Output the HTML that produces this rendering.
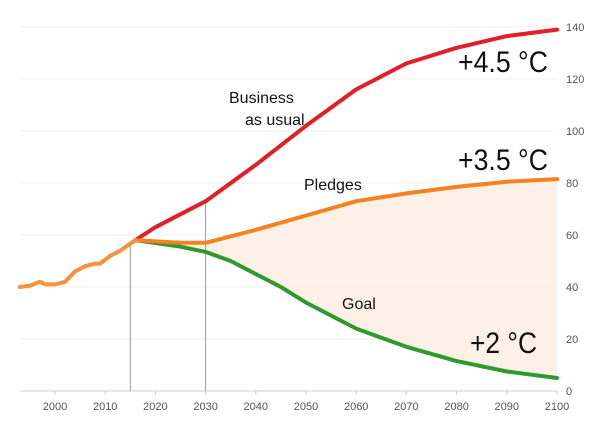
<!DOCTYPE html>
<html><head><meta charset="utf-8"><style>
body{margin:0;background:#fff;}
svg{display:block;font-family:"Liberation Sans",sans-serif;}
</style></head><body>
<svg id="chart" width="600" height="430" viewBox="0 0 600 430"></svg>
<script>
const yTicks=[0,20,40,60,80,100,120,140];
const xTicks=[2000,2010,2020,2030,2040,2050,2060,2070,2080,2090,2100];
const histYears=[1993,1995,1997,1998,2000,2002,2004,2006,2008,2009,2011,2013,2016];
const histVals=[40,40.5,42,41,41,42,46,48,49,49,52,54,58];
const bauYears=[2016,2020,2030,2040,2050,2060,2070,2080,2090,2100];
const bauVals=[58,63,73,87,102,116,126,132,136.5,139];
const pledgeYears=[2016,2025,2030,2040,2050,2060,2070,2080,2090,2100];
const pledgeVals=[58,57,57,62,67.5,73,76,78.5,80.5,81.5];
const goalYears=[2016,2025,2030,2035,2045,2050,2060,2070,2080,2090,2100];
const goalVals=[58,55.5,53.5,50,40,34,24,17,11.5,7.5,5];
const markerYears=[2015,2030];

const svg=document.getElementById('chart');
const NS='http://www.w3.org/2000/svg';
const X=y=>55+(y-2000)*5.02;
const Y=v=>391-v*2.6;
function mk(tag,attrs,parent){const e=document.createElementNS(NS,tag);for(const k in attrs)e.setAttribute(k,attrs[k]);(parent||svg).appendChild(e);return e;}
function pts(ys,vs){return ys.map((y,i)=>X(y).toFixed(1)+','+Y(vs[i]).toFixed(1));}

yTicks.forEach(v=>{
  const l=mk('line',{x1:20,x2:X(2100),y1:Y(v),y2:Y(v),stroke:v===0?'#ccc':'#f0f0f0','stroke-width':1});
  
  
  const t=mk('text',{x:566,y:Y(v)+4,'font-size':11,fill:'#555'});
  t.textContent=v;
  
  
});
xTicks.forEach(y=>{
  const tk=mk('line',{x1:X(y),x2:X(y),y1:Y(0),y2:Y(0)+4,stroke:'#ccc'});
  
  
  const t=mk('text',{x:X(y),y:410,'font-size':11,fill:'#555','text-anchor':'middle'});
  t.textContent=y;
  
  
});

const gRev=pts(goalYears,goalVals).reverse();
const area=mk('polygon',{points:pts(pledgeYears,pledgeVals).concat(gRev).join(' '),fill:'#fdeee3',opacity:0.85});



const interp=(ys,vs,y)=>{for(let i=1;i<ys.length;i++){if(y<=ys[i]){const t=(y-ys[i-1])/(ys[i]-ys[i-1]);return vs[i-1]+t*(vs[i]-vs[i-1]);}}return vs[vs.length-1];};
markerYears.forEach(y=>{
  const top=y<=2016?interp(histYears,histVals,y):interp(bauYears,bauVals,y);
  const l=mk('line',{x1:X(y),x2:X(y),y1:Y(0),y2:Y(top),stroke:'#999','stroke-width':1});
  
  
});

function series(ys,vs,color,name){
  const p=mk('polyline',{points:pts(ys,vs).join(' '),fill:'none',stroke:color,'stroke-width':4,'stroke-linejoin':'round','stroke-linecap':'round'});
  
  
}
series(bauYears,bauVals,'#e41e26','business-as-usual-line');
series(goalYears,goalVals,'#2e9a2b','goal-line');
series(pledgeYears,pledgeVals,'#f5821f','pledges-line');
series(histYears,histVals,'#f7913a','historical-line');

function label(x,y,size,txt,name,len){
  const a={x:x,y:y,'font-size':size,fill:'#111'};
  if(len){a.textLength=len;a.lengthAdjust='spacingAndGlyphs';}
  const t=mk('text',a);
  t.textContent=txt;
  
  
}
label(229,103,16,'Business','bau-label-line1');
label(245,125,16,'as usual','bau-label-line2');
label(304,190,16,'Pledges','pledges-label');
label(342,309,16,'Goal','goal-label');
label(458,72,30,'+4.5 °C','bau-temp-label',90);
label(458,170,30,'+3.5 °C','pledges-temp-label',90);
label(470,353,30,'+2 °C','goal-temp-label',67);
</script>
</body></html>
